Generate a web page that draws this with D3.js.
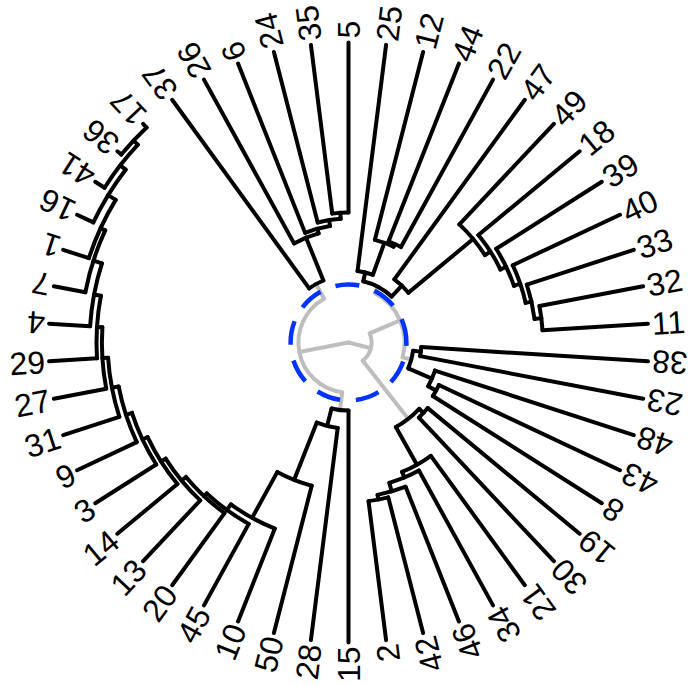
<!DOCTYPE html>
<html>
<head>
<meta charset="utf-8">
<script src="https://cdn.jsdelivr.net/npm/d3@7"></script>
<style>
  html, body { margin: 0; padding: 0; background: #ffffff; }
  svg { display: block; }
</style>
</head>
<body>
<svg id="chart" width="688" height="685"></svg>
<script>
// Tip labels, clockwise around the fan
const tipLabels = ["25","12","44","22","47","49","18","39","40","33","32","11",
  "38","23","48","43","8","19","30","21","34","46","42","2",
  "15","28","50","10","45","20","13","14","3","9","31","27","29","4","7","1",
  "16","41","36","17","37","26","6","24","35","5"];

// Internal nodes of the dendrogram
const nodeIds = ["root","A","Z","Y","X","N24","N35",
  "W","V","U","T","S","L20","L13","L14","L3","L9","L31","L27","L29","L4","L7","L1","L16","L41","L36",
  "B","C","E1","P25","P12","P44","Q47","Q49","Q18","Q39","Q40","Q33","Q32",
  "E2","F38","F48","F43","D","G19","G21","G34","G46","G42"];
const nodeChildren = [["A","B"],["Z","W"],["37","Y"],["26","X"],["6","N24"],["24","N35"],["35","5"],
  ["15","V"],["28","U"],["50","T"],["10","S"],["45","L20"],["20","L13"],["13","L14"],["14","L3"],["3","L9"],
  ["9","L31"],["31","L27"],["27","L29"],["29","L4"],["4","L7"],["7","L1"],["1","L16"],["16","L41"],["41","L36"],["36","17"],
  ["C","D"],["E1","E2"],["P25","Q47"],["25","P12"],["12","P44"],["44","22"],["47","Q49"],["49","Q18"],["18","Q39"],
  ["39","Q40"],["40","Q33"],["33","Q32"],["32","11"],
  ["F38","F48"],["38","23"],["48","F43"],["43","8"],["G19","G21"],["19","30"],["21","G34"],["34","G46"],["46","G42"],["42","2"]];
// Distance of each internal node from the root (tips sit at tipDepth)
const nodeDepth = [0, 16.7, 22.3, 37.7, 39.3, 41.3, 43.3,
  22.7, 28.7, 49.3, 66.7, 69.0, 70.3, 72.2, 74.0, 75.9, 78.0, 80.3, 82.2, 84.0, 86.3, 89.3, 91.0, 94.0, 96.3, 98.3,
  7.7, 18.7, 21.0, 24.0, 35.3, 36.3, 26.0, 54.0, 56.2, 58.3, 60.5, 62.5, 64.8,
  21.7, 24.3, 30.3, 33.3, 32.3, 34.3, 46.7, 48.7, 51.7, 53.3];
const tipDepth = 100;
// Cut height: branches above it are grey, the cut is shown as a dashed ring
const cutDepth = 19.3;

const width = 688, height = 685;
const cx = 348.5, cy = 342.5;
const svg = d3.select("#chart");

const rScale = d3.scaleLinear().domain([0, tipDepth]).range([0, 300]);
const n = tipLabels.length;
// tip index -> angle in degrees (counter-clockwise from the x axis)
const angleScale = d3.scaleLinear().domain([0, n]).range([82.8, 82.8 - 360]);

const nodes = new Map();
tipLabels.forEach((lab, i) => nodes.set(lab, {id: lab, tip: true, depth: tipDepth, angle: angleScale(i)}));
nodeIds.forEach((id, i) => nodes.set(id, {id, tip: false, depth: nodeDepth[i], kids: nodeChildren[i]}));

function angleOf(id) {
  const nd = nodes.get(id);
  if (nd.angle === undefined) nd.angle = d3.mean(nd.kids, angleOf);
  return nd.angle;
}
nodeIds.forEach(angleOf);

const rad = d => d * Math.PI / 180;
const pt = (r, a) => [cx + r * Math.cos(rad(a)), cy - r * Math.sin(rad(a))];

const grey = "#bebebe", black = "#000000";
const lw = 4;

const gEdges = svg.append("g").attr("fill", "none").attr("stroke-width", lw).attr("stroke-linecap", "round");

nodeIds.forEach(id => {
  const nd = nodes.get(id);
  const col = nd.depth < cutDepth ? grey : black;
  const r0 = rScale(nd.depth);
  const angs = nd.kids.map(k => nodes.get(k).angle);
  // arc joining the children
  if (r0 > 0) {
    const a1 = d3.max(angs), a2 = d3.min(angs);
    const p1 = pt(r0, a1), p2 = pt(r0, a2);
    const large = (a1 - a2) > 180 ? 1 : 0;
    gEdges.append("path")
      .attr("d", `M${p1[0]},${p1[1]} A${r0},${r0} 0 ${large} 1 ${p2[0]},${p2[1]}`)
      .attr("stroke", col);
  }
  // radial branches to each child
  nd.kids.forEach(k => {
    const c = nodes.get(k);
    const p1 = pt(r0, c.angle), p2 = pt(rScale(c.depth), c.angle);
    gEdges.append("path")
      .attr("d", `M${p1[0]},${p1[1]} L${p2[0]},${p2[1]}`)
      .attr("stroke", col);
  });
});

// dashed ring at the cut height
const rc = rScale(cutDepth);
svg.append("path")
  .attr("d", `M${cx + rc},${cy} A${rc},${rc} 0 1 0 ${cx - rc},${cy} A${rc},${rc} 0 1 0 ${cx + rc},${cy}`)
  .attr("fill", "none")
  .attr("stroke", "#0033ff")
  .attr("stroke-width", 4.5)
  .attr("stroke-dasharray", "24 16");

// tip labels
const gLab = svg.append("g")
  .attr("font-family", "'Liberation Sans', Arial, Helvetica, sans-serif")
  .attr("font-size", 32)
  .attr("fill", "#000");

tipLabels.forEach(lab => {
  const nd = nodes.get(lab);
  const a = nd.angle;
  const p = pt(rScale(tipDepth) + 4, a);
  const flip = Math.sin(rad(a)) < 0;
  gLab.append("text")
    .attr("transform", `translate(${p[0]},${p[1]}) rotate(${flip ? 180 - a : -a})`)
    .attr("text-anchor", flip ? "end" : "start")
    .attr("dy", "0.36em")
    .text(lab);
});
</script>
</body>
</html>
